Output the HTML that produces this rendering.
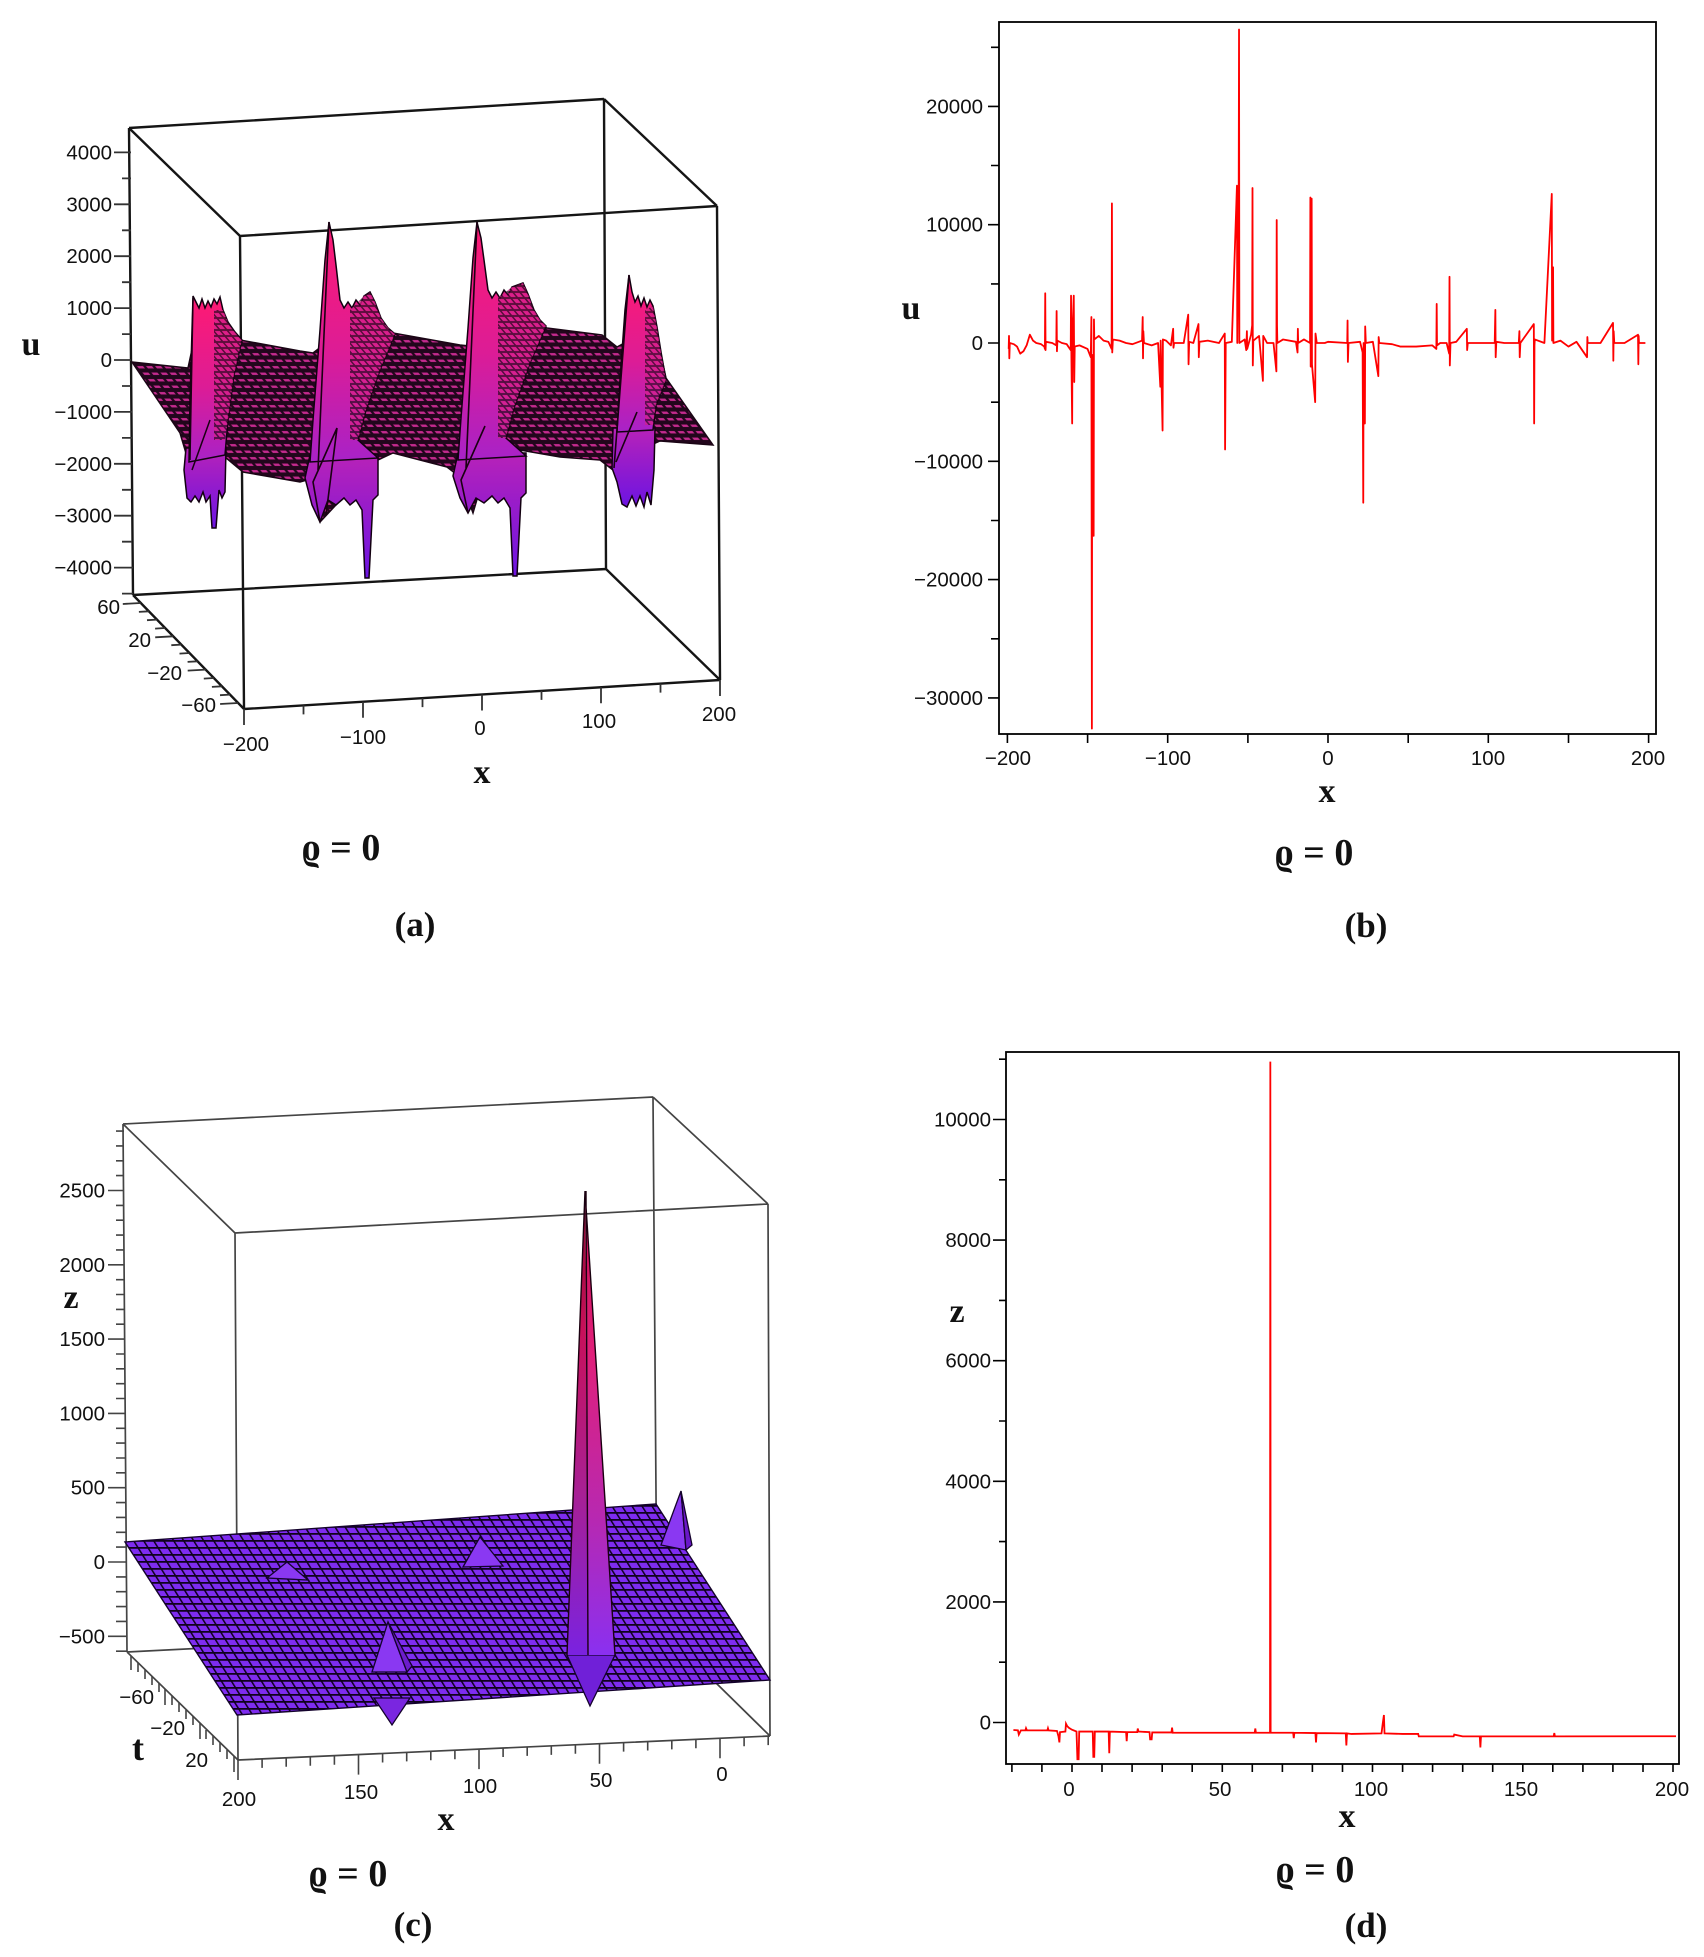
<!DOCTYPE html>
<html><head><meta charset="utf-8"><style>
html,body{margin:0;padding:0;background:#fff;}
svg{display:block;}
.tk{font-family:"Liberation Sans","DejaVu Sans",sans-serif;font-size:20.5px;fill:#111;}
.lb{font-family:"Liberation Serif","DejaVu Serif",serif;font-weight:bold;fill:#111;}
</style></head><body>
<svg width="1704" height="1957" viewBox="0 0 1704 1957" xmlns="http://www.w3.org/2000/svg">
<defs>
<pattern id="pa" width="9" height="6.5" patternUnits="userSpaceOnUse" patternTransform="skewX(40)">
<rect width="9" height="6.5" fill="#22061c"/><rect x="0.8" y="2" width="6" height="2.5" fill="#c42a8e"/></pattern>
<pattern id="ps" width="7" height="6" patternUnits="userSpaceOnUse" patternTransform="skewX(40)">
<rect width="7" height="6" fill="#2a0820"/><rect x="0" y="1" width="5" height="4" fill="#d8208c"/></pattern>
<pattern id="pc" width="10" height="7" patternUnits="userSpaceOnUse" patternTransform="skewX(32)">
<rect width="10" height="7" fill="#10021e"/><rect x="1.8" y="1.8" width="8.2" height="5.2" fill="#7e2cf0"/></pattern>
<linearGradient id="gPink" x1="0" y1="0" x2="0" y2="1">
<stop offset="0" stop-color="#ff1a72"/><stop offset="0.55" stop-color="#dc1c96"/><stop offset="1" stop-color="#a822c8"/></linearGradient>
<linearGradient id="gPur" x1="0" y1="0" x2="0" y2="1">
<stop offset="0" stop-color="#b822b8"/><stop offset="1" stop-color="#6c14e2"/></linearGradient>
<linearGradient id="gL" x1="0" y1="0" x2="0" y2="1">
<stop offset="0" stop-color="#1a0008"/><stop offset="0.08" stop-color="#9a0a3a"/><stop offset="0.3" stop-color="#c8105a"/><stop offset="0.65" stop-color="#a82094"/><stop offset="1" stop-color="#7a22e0"/></linearGradient>
<linearGradient id="gR" x1="0" y1="0" x2="0" y2="1">
<stop offset="0" stop-color="#200010"/><stop offset="0.08" stop-color="#d0105a"/><stop offset="0.35" stop-color="#e0207a"/><stop offset="0.7" stop-color="#b828b0"/><stop offset="1" stop-color="#8a30f0"/></linearGradient>
</defs>

<!-- ================= PANEL (a) ================= -->
<g stroke="#151515" stroke-width="2.4" fill="none">
<path d="M129,128 L604,99 M129,128 L240,236 M604,99 L717,206 M240,236 L717,206 M129,128 L133,595 M604,99 L606,569 M240,236 L244,709 M717,206 L720,680 M133,595 L606,569 M133,595 L244,709 M606,569 L720,680 M244,709 L720,680"/>
</g>
<g stroke="#333" stroke-width="1.8">
<path d="M114,152.4H131 M122,178.4H131 M114,204.3H131 M122,230.3H131 M114,256.2H131 M122,282.2H131 M114,308.1H131 M122,334.1H131 M114,360H131 M122,386H131 M114,411.9H132 M122,437.9H132 M114,463.8H132 M122,489.8H132 M114,515.7H132 M122,541.7H132 M114,567.6H133 M122,593.6H133"/>
</g>
<g class="tk" text-anchor="end">
<text x="112" y="159.4">4000</text><text x="112" y="211.3">3000</text><text x="112" y="263.2">2000</text><text x="112" y="315.1">1000</text><text x="112" y="367">0</text>
<text x="112" y="418.9">−1000</text><text x="112" y="470.8">−2000</text><text x="112" y="522.7">−3000</text><text x="112" y="574.6">−4000</text>
</g>
<g stroke="#333" stroke-width="1.8">
<path d="M140.8,603 l-18,1 M148.9,611.3 l-10,0.6 M157,619.6 l-10,0.6 M165.1,628 l-10,0.6 M173.2,636.3 l-18,1 M181.3,644.6 l-10,0.6 M189.5,653 l-10,0.6 M197.6,661.3 l-10,0.6 M205.7,669.6 l-18,1 M213.8,678 l-10,0.6 M221.9,686.3 l-10,0.6 M230,694.6 l-10,0.6 M238.1,703 l-18,1"/>
</g>
<g class="tk" text-anchor="end">
<text x="120" y="614">60</text><text x="151" y="647">20</text><text x="182" y="680">−20</text><text x="216" y="712">−60</text>
</g>
<g stroke="#333" stroke-width="1.8">
<path d="M244,709 v16 M303.5,705.4 v9 M363,701.8 v16 M422.5,698.1 v9 M482,694.5 v16 M541.5,690.9 v9 M601,687.3 v16 M660.5,683.6 v9 M720,680 v16"/>
</g>
<g class="tk" text-anchor="middle">
<text x="246" y="751">−200</text><text x="363" y="744">−100</text><text x="480" y="735">0</text><text x="599" y="728">100</text><text x="719" y="721">200</text>
</g>
<polygon fill="url(#pa)" stroke="#1a0515" stroke-width="1.5" points="132,362 188,368 194,340 240,340 300,351 313,353 330,340 393,333 460,345 470,346 480,330 541,326 547,328 602,335 617,347 630,340 660,350 666,378 713,445 660,441 640,450 613,470 600,460 560,457 520,450 490,455 473,513 460,477 447,467 393,453 378,460 320,522 307,480 300,482 243,472 225,457 190,500 188,460 180,433"/>
<polygon fill="url(#gPur)" stroke="#120010" stroke-width="1.5" points="186,448 226,448 225,492 222,498 219,490 216,528 212,528 210,496 206,502 203,492 199,502 195,496 191,502 187,498 184,470"/>
<polygon fill="url(#gPink)" stroke="#120010" stroke-width="1.5" points="189,462 190,400 192,330 193,296 196,302 199,308 202,299 205,308 208,301 211,307 214,299 217,304 220,297 223,310 228,322 235,332 242,340 234,375 228,420 225,455"/>
<polygon fill="url(#ps)" opacity="0.75" points="214,310 223,310 228,322 235,332 242,340 234,375 228,420 225,440 214,440"/>
<path d="M193,298 L190,460 M210,420 L192,470" stroke="#1a0012" stroke-width="1.5" fill="none"/>
<g>
<polygon fill="url(#gPur)" stroke="#120010" stroke-width="1.5" points="310,455 378,455 378,495 373,500 369,578 365,578 362,510 356,500 350,505 344,498 336,505 328,500 320,522 312,505 305,478"/>
<polygon fill="url(#gPink)" stroke="#120010" stroke-width="1.5" points="329,222 333,240 336,265 340,300 344,308 348,302 352,308 356,300 360,305 364,296 370,292 375,302 381,318 388,328 395,334 380,370 366,410 358,440 378,458 310,462 313,420 320,330 325,260"/>
<polygon fill="url(#ps)" opacity="0.75" points="350,310 364,296 370,292 375,302 381,318 388,328 395,334 380,370 366,410 358,440 350,440"/>
<path d="M329,222 L318,470 M337,428 L313,482 L320,522 M337,428 L326,515" stroke="#1a0012" stroke-width="1.6" fill="none"/>
</g>
<g transform="translate(148,-2)">
<polygon fill="url(#gPur)" stroke="#120010" stroke-width="1.5" points="310,455 378,455 378,495 373,500 369,578 365,578 362,510 356,500 350,505 344,498 336,505 328,500 320,515 312,500 305,478"/>
<polygon fill="url(#gPink)" stroke="#120010" stroke-width="1.5" points="329,224 333,240 336,262 340,292 344,300 348,294 352,300 356,292 360,297 364,289 375,285 380,296 386,312 392,322 398,328 382,365 366,410 358,440 378,458 310,462 313,420 320,330 325,260"/>
<polygon fill="url(#ps)" opacity="0.75" points="350,300 364,289 375,285 380,296 386,312 392,322 398,328 382,365 366,410 358,440 350,440"/>
<path d="M329,224 L318,470 M337,428 L313,482 L320,515" stroke="#1a0012" stroke-width="1.6" fill="none"/>
</g>
<polygon fill="url(#gPur)" stroke="#120010" stroke-width="1.5" points="613,428 655,428 654,470 651,505 647,492 644,507 640,496 636,506 632,496 627,507 622,504 617,482 612,468"/>
<polygon fill="url(#gPink)" stroke="#120010" stroke-width="1.5" points="629,275 632,292 635,302 638,296 641,306 644,298 647,307 650,300 653,306 657,327 661,352 666,380 656,405 653,430 617,432 620,380 625,310"/>
<polygon fill="url(#ps)" opacity="0.7" points="645,310 653,306 657,327 661,352 666,380 656,405 653,425 645,425"/>
<path d="M629,275 L614,468 M637,412 L616,462" stroke="#1a0012" stroke-width="1.6" fill="none"/>
<text class="lb" x="31" y="355" font-size="34" text-anchor="middle">u</text>
<text class="lb" x="482" y="783" font-size="34" text-anchor="middle">x</text>
<text class="lb" x="341" y="860" font-size="38" text-anchor="middle">ϱ = 0</text>
<text class="lb" x="415" y="936" font-size="35" text-anchor="middle">(a)</text>

<!-- ================= PANEL (b) ================= -->
<rect x="999" y="22" width="657" height="712" fill="none" stroke="#000" stroke-width="1.8"/>
<g stroke="#000" stroke-width="1.6">
<path d="M988,106.4H999 M991,47.3H999 M991,165.5H999 M988,224.7H999 M991,283.9H999 M988,343H999 M991,402.2H999 M988,461.3H999 M991,520.5H999 M988,579.6H999 M991,638.8H999 M988,697.9H999"/>
<path d="M1007.4,734v9 M1087.6,734v9 M1167.7,734v9 M1247.9,734v9 M1328,734v9 M1408.2,734v9 M1488.3,734v9 M1568.5,734v9 M1648.6,734v9"/>
</g>
<g class="tk" text-anchor="end">
<text x="983" y="113.4">20000</text><text x="983" y="231.7">10000</text><text x="983" y="350">0</text><text x="983" y="468.3">−10000</text><text x="983" y="586.6">−20000</text><text x="983" y="704.9">−30000</text>
</g>
<g class="tk" text-anchor="middle">
<text x="1008" y="765">−200</text><text x="1168" y="765">−100</text><text x="1328" y="765">0</text><text x="1488" y="765">100</text><text x="1648" y="765">200</text>
</g>
<g transform="translate(1328 343) scale(1.603 -0.01183)">
<path fill="none" stroke="#ff0000" stroke-width="1.8" vector-effect="non-scaling-stroke" stroke-linejoin="round" d="M-199.2,-500 L-199,600 L-198.8,-1300 L-198.5,0 L-196,-100 L-194,-300 L-192,-900 L-190,-700 L-188,-200 L-186,700 L-184,200 L-182,0 L-179,-100 L-177,-300 L-176.6,-500 L-176.4,4200 L-176.2,-600 L-176,100 L-172,0 L-169.5,-200 L-169.3,2700 L-169.1,-700 L-168.8,200 L-166,0 L-163,-100 L-160.5,-600 L-160.3,4000 L-160.1,-800 L-159.6,-6800 L-159.4,900 L-158.6,4000 L-158.3,-3300 L-158,-300 L-155,-200 L-150,-500 L-148,-1200 L-147.6,2200 L-147.3,-32600 L-147.1,-1000 L-146.2,-16300 L-146,2000 L-145.8,300 L-143,600 L-140,200 L-137,100 L-135,-500 L-134.8,11800 L-134.6,-800 L-134.2,300 L-130,200 L-126,0 L-122,-100 L-118,100 L-116,200 L-115.6,2200 L-115.4,-1300 L-115.2,1000 L-114.8,0 L-110,-200 L-106,0 L-104.6,-3700 L-104.4,200 L-103.2,-7400 L-103,300 L-101,200 L-98,-200 L-96.6,1200 L-96.4,-400 L-96,0 L-90,0 L-87.2,2400 L-87,-1800 L-86.6,100 L-84,0 L-80.8,1600 L-80.6,-1200 L-80.2,100 L-75,200 L-68,0 L-64.4,800 L-64.2,-9000 L-64,-4400 L-63.8,0 L-60,100 L-56.8,13300 L-56.6,0 L-55.7,13300 L-55.5,26500 L-55.3,0 L-52,300 L-51,-600 L-50.6,1000 L-50.4,-500 L-48,700 L-47.3,1500 L-47.1,13100 L-46.9,-1900 L-46.6,200 L-43,600 L-40.6,-3200 L-40.4,600 L-38,0 L-34,0 L-32.2,-2400 L-32,10400 L-31.8,1500 L-31.6,0 L-28,300 L-20,100 L-19,-800 L-18.8,1200 L-18.6,0 L-15,300 L-11.2,0 L-11,12300 L-10.8,-2000 L-10.2,12200 L-10,-1800 L-8,-5000 L-7.8,800 L-7,0 L-2,0 L0,100 L12,0 L12.2,1900 L12.4,-1600 L12.8,0 L20,100 L21.6,-800 L22,-13500 L22.2,0 L23,-6800 L23.2,1400 L23.6,0 L28,100 L31.4,-2800 L31.6,500 L32,0 L40,-100 L45,-300 L55,-300 L65,-200 L67.6,-500 L67.8,3300 L68,-200 L70,0 L74,0 L75.6,-900 L75.8,5600 L76,-1900 L76.4,0 L80,100 L86.6,1200 L86.8,-600 L87.2,0 L95,0 L104,0 L104.4,2800 L104.6,-1200 L105,100 L110,0 L119,0 L119.4,1000 L119.6,-1200 L120,0 L128.4,1600 L128.6,-6800 L128.8,-200 L129,300 L135,0 L139.6,12600 L139.8,200 L140.4,6400 L140.6,0 L145,200 L150,-300 L155,100 L161.6,-1200 L161.8,500 L162,0 L170,0 L177.8,1700 L178,-1500 L178.2,1000 L178.6,0 L185,0 L193.4,700 L193.6,-1800 L193.8,600 L194,0 L198,0"/>
</g>
<text class="lb" x="911" y="319" font-size="34" text-anchor="middle">u</text>
<text class="lb" x="1327" y="802" font-size="34" text-anchor="middle">x</text>
<text class="lb" x="1314" y="865" font-size="38" text-anchor="middle">ϱ = 0</text>
<text class="lb" x="1366" y="937" font-size="35" text-anchor="middle">(b)</text>

<!-- ================= PANEL (c) ================= -->
<g stroke="#444" stroke-width="1.7" fill="none">
<path d="M123,1124 L653,1097 M123,1124 L235,1233 M653,1097 L768,1204 M235,1233 L768,1204 M123,1124 L127,1652 M653,1097 L657,1625 M235,1233 L238,1760 M768,1204 L770,1736 M127,1652 L657,1625 M127,1652 L238,1760 M657,1625 L770,1736 M238,1760 L770,1736"/>
</g>
<g stroke="#444" stroke-width="1.6">
<path d="M116,1131.1H124 M116,1145.9H124 M116,1160.8H124 M116,1175.6H124 M108,1190.5H124 M116,1205.4H124 M116,1220.2H124 M116,1235.1H124 M116,1249.9H124 M108,1264.8H124 M116,1279.7H124 M116,1294.5H124 M116,1309.4H124 M116,1324.2H125 M108,1339.1H125 M116,1354H125 M116,1368.8H125 M116,1383.7H125 M116,1398.5H125 M108,1413.4H125 M116,1428.3H125 M116,1443.1H125 M116,1458H126 M116,1472.8H126 M108,1487.7H126 M116,1502.6H126 M116,1517.4H126 M116,1532.3H126 M116,1547.1H126 M108,1562H126 M116,1576.9H126 M116,1591.7H127 M116,1606.6H127 M116,1621.4H127 M108,1636.3H127 M116,1651.2H127"/>
<path d="M238,1760v20 M262.1,1758.9v9 M286.2,1757.8v9 M310.3,1756.7v9 M334.4,1755.7v9 M358.5,1754.6v20 M382.6,1753.5v9 M406.7,1752.4v9 M430.8,1751.3v9 M454.9,1750.2v9 M479,1749.1v20 M503.1,1748v9 M527.2,1746.9v9 M551.3,1745.9v9 M575.4,1744.8v9 M599.5,1743.7v20 M623.6,1742.6v9 M647.7,1741.5v9 M671.8,1740.4v9 M695.9,1739.3v9 M720,1738.3v20 M744.1,1737.2v9 M768.2,1736.1v9"/>
<path d="M131,1656v14 M138,1663v9 M145,1670v9 M152,1676v9 M159,1683v9 M165,1689v16 M172,1696v9 M179,1703v9 M186,1710v9 M193,1716v9 M200,1723v16 M206,1730v9 M213,1736v9 M220,1743v9 M227,1750v9 M234,1756v16"/>
</g>
<g class="tk" text-anchor="end">
<text x="105" y="1197.5">2500</text><text x="105" y="1271.8">2000</text><text x="105" y="1346.1">1500</text><text x="105" y="1420.4">1000</text><text x="105" y="1494.7">500</text><text x="105" y="1569">0</text><text x="105" y="1643.3">−500</text>
<text x="154" y="1704">−60</text><text x="185" y="1735">−20</text><text x="208" y="1767">20</text>
</g>
<g class="tk" text-anchor="middle">
<text x="239" y="1806">200</text><text x="361" y="1799">150</text><text x="480" y="1793">100</text><text x="601" y="1787">50</text><text x="722" y="1781">0</text>
</g>
<polygon fill="url(#pc)" stroke="#14022c" stroke-width="1.4" points="125,1542 656,1504 770,1680 237,1715"/>
<g stroke="#14022c" stroke-width="1.3">
<polygon fill="#8a38f2" points="287,1562 267,1578 308,1580"/>
<polygon fill="#8a38f2" points="480,1537 463,1567 503,1566"/>
<polygon fill="#8a38f2" points="388,1622 372,1672 407,1672"/>
<polygon fill="#6c1ccc" points="388,1622 407,1672 412,1666"/>
<polygon fill="#7a26e0" points="374,1698 410,1698 392,1725"/>
<polygon fill="#8a38f2" points="681,1491 661,1545 686,1550"/>
<polygon fill="#6a18c8" points="681,1491 686,1550 692,1545"/>
<polygon fill="#7020d8" points="567,1655 615,1655 590,1706"/>
</g>
<polygon fill="url(#gL)" points="585,1191 567,1655 588,1655"/>
<polygon fill="url(#gR)" points="585,1191 588,1655 615,1655"/>
<path d="M585,1191 L567,1655 M585,1191 L615,1655 M586,1191 L588,1655" stroke="#1a0010" stroke-width="1.4" fill="none"/>
<text class="lb" x="71" y="1308" font-size="34" text-anchor="middle">z</text>
<text class="lb" x="138" y="1760" font-size="36" text-anchor="middle">t</text>
<text class="lb" x="446" y="1830" font-size="34" text-anchor="middle">x</text>
<text class="lb" x="348" y="1886" font-size="38" text-anchor="middle">ϱ = 0</text>
<text class="lb" x="413" y="1936" font-size="35" text-anchor="middle">(c)</text>

<!-- ================= PANEL (d) ================= -->
<rect x="1006" y="1052" width="673" height="712" fill="none" stroke="#000" stroke-width="1.8"/>
<g stroke="#000" stroke-width="1.6">
<path d="M993,1722.5H1006 M999,1662.2H1006 M993,1601.9H1006 M999,1541.6H1006 M993,1481.3H1006 M999,1421H1006 M993,1360.7H1006 M999,1300.4H1006 M993,1240.1H1006 M999,1179.8H1006 M993,1119.5H1006 M999,1059.2H1006"/>
<path d="M1011.9,1764v8 M1041.9,1764v8 M1072,1764v8 M1102,1764v8 M1132.1,1764v8 M1162.2,1764v8 M1192.2,1764v8 M1222.3,1764v8 M1252.3,1764v8 M1282.4,1764v8 M1312.4,1764v8 M1342.5,1764v8 M1372.5,1764v8 M1402.6,1764v8 M1432.6,1764v8 M1462.7,1764v8 M1492.7,1764v8 M1522.8,1764v8 M1552.8,1764v8 M1582.9,1764v8 M1612.9,1764v8 M1643,1764v8 M1673,1764v8"/>
</g>
<g class="tk" text-anchor="end">
<text x="991" y="1126.5">10000</text><text x="991" y="1247.1">8000</text><text x="991" y="1367.7">6000</text><text x="991" y="1488.3">4000</text><text x="991" y="1608.9">2000</text><text x="991" y="1729.5">0</text>
</g>
<g class="tk" text-anchor="middle">
<text x="1069" y="1796">0</text><text x="1220" y="1796">50</text><text x="1371" y="1796">100</text><text x="1521" y="1796">150</text><text x="1672" y="1796">200</text>
</g>
<g transform="translate(1072 1722.5) scale(3.005 -0.0603)">
<path fill="none" stroke="#ff0000" stroke-width="1.8" vector-effect="non-scaling-stroke" d="M-19.5,-125 L-18,-130 L-17.7,-200 L-17,-130 L-15.5,-130 L-15.3,-95 L-15,-130 L-10,-130 L-8.2,-130 L-8,-95 L-7.8,-130 L-5,-140 L-4.5,-230 L-4.2,-330 L-4,-160 L-2.2,-150 L-2,-20 L-1.6,-60 L-1,-90 L0,-120 L1.5,-150 L1.8,-610 L2.2,-610 L2.4,-150 L6.9,-150 L7.1,-570 L7.4,-570 L7.6,-150 L12.2,-150 L12.4,-510 L12.6,-150 L18,-160 L18.2,-310 L18.4,-160 L21.7,-160 L21.9,-100 L22.1,-150 L25.8,-160 L26,-280 L26.5,-280 L26.7,-165 L33.1,-165 L33.3,-85 L33.5,-170 L60.8,-170 L61,-100 L61.2,-170 L65.9,-170 L66,10960 L66.1,-170 L73.6,-170 L73.8,-260 L74,-170 L81,-175 L81.2,-330 L81.4,-175 L91.1,-180 L91.3,-380 L91.5,-180 L93,-190 L103,-180 L103.4,-20 L103.8,124 L104,-180 L110,-190 L115.2,-190 L115.4,-230 L127,-230 L127.2,-200 L130,-230 L135.7,-230 L135.9,-414 L136.1,-230 L160.3,-230 L160.5,-175 L160.7,-230 L201,-228"/>
</g>
<text class="lb" x="957" y="1322" font-size="34" text-anchor="middle">z</text>
<text class="lb" x="1347" y="1827" font-size="34" text-anchor="middle">x</text>
<text class="lb" x="1315" y="1882" font-size="38" text-anchor="middle">ϱ = 0</text>
<text class="lb" x="1366" y="1937" font-size="35" text-anchor="middle">(d)</text>
</svg>
</body></html>
